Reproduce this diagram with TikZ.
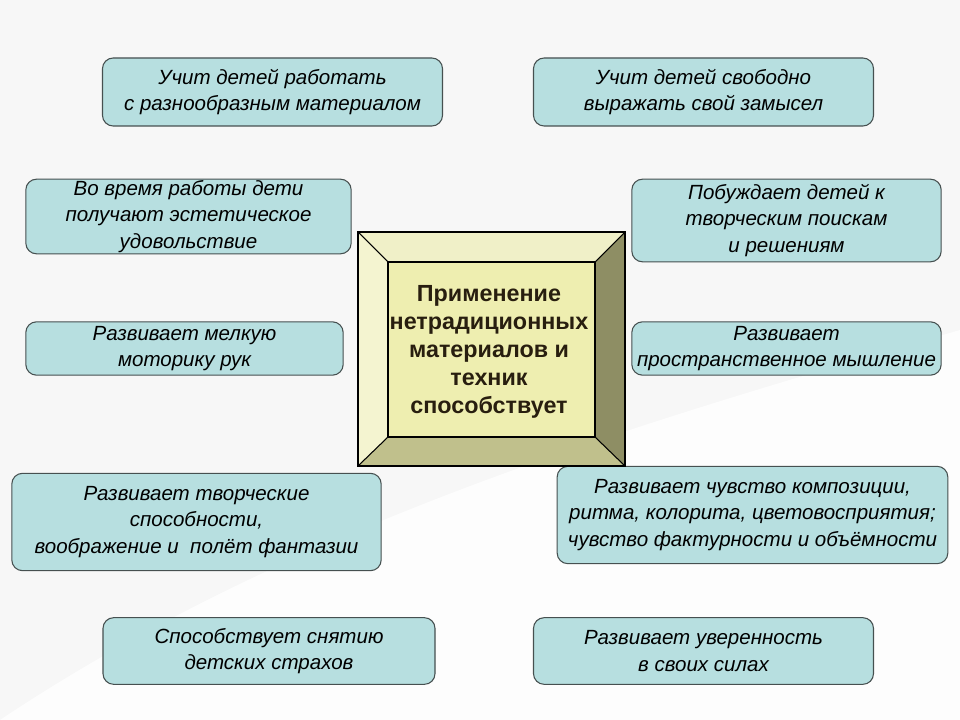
\documentclass[tikz,border=0pt]{standalone}
\usepackage{fontspec}
\setmainfont{Liberation Sans}
\usetikzlibrary{positioning}
\definecolor{boxfill}{RGB}{183,223,224}
\definecolor{boxdraw}{RGB}{70,80,80}
\definecolor{bevtop}{RGB}{240,240,200}
\definecolor{bevleft}{RGB}{244,244,208}
\definecolor{bevright}{RGB}{142,142,100}
\definecolor{bevbottom}{RGB}{192,192,140}
\definecolor{bevface}{RGB}{238,238,176}
\definecolor{titletext}{RGB}{40,30,15}

\begin{document}
\begin{tikzpicture}[
        x=0.75pt, y=-0.75pt,
        info/.style={
            rectangle,
            rounded corners=8pt,
            draw=boxdraw,
            line width=0.8pt,
            fill=boxfill,
            font=\fontsize{15.4}{20}\selectfont\itshape,
            align=center,
            inner sep=0pt
        },
        bevel/.style={draw=black, line width=0.8pt}
    ]
    % background
    \fill[gray!6] (0,0) rectangle (960,720);
    \fill[white, opacity=0.8] (0,720) .. controls (300,520) and (650,420) .. (960,330) -- (960,720) -- cycle;

    % boxes around the centre
    \node[info, minimum width=255pt, minimum height=51pt] (work) at (272.5,92) {Учит детей работать\\с разнообразным материалом};
    \node[info, minimum width=255pt, minimum height=51pt] (idea) at (703.5,92) {Учит детей свободно\\выражать свой замысел};
    \node[info, minimum width=244pt, minimum height=56pt] (joy) at (188.5,216.5) {Во время работы дети\\получают эстетическое\\удовольствие};
    \node[info, minimum width=232pt, minimum height=62pt] (search) at (786.5,220.5) {Побуждает детей к\\творческим поискам\\и решениям};
    \node[info, minimum width=238pt, minimum height=40pt] (hands) at (184.5,348.5) {Развивает мелкую\\моторику рук};
    \node[info, minimum width=232pt, minimum height=40pt] (space) at (786.5,348.5) {Развивает\\пространственное мышление};
    \node[info, minimum width=277pt, minimum height=73pt] (fantasy) at (196.5,522) {Развивает творческие\\способности,\\воображение и\ \ полёт фантазии};
    \node[info, minimum width=293pt, minimum height=73pt] (rhythm) at (752.5,515) {Развивает чувство композиции,\\ритма, колорита, цветовосприятия;\\чувство фактурности и объёмности};
    \node[info, minimum width=249pt, minimum height=50pt] (fear) at (269,651) {Способствует снятию\\детских страхов};
    \node[info, minimum width=255pt, minimum height=50pt] (self) at (703.5,651) {Развивает уверенность\\в своих силах};

    % bevelled centre
    \fill[bevtop] (358,232) -- (625,232) -- (595,262) -- (388,262) -- cycle;
    \fill[bevleft] (358,232) -- (388,262) -- (388,437) -- (358,466) -- cycle;
    \fill[bevright] (625,232) -- (625,466) -- (595,437) -- (595,262) -- cycle;
    \fill[bevbottom] (358,466) -- (625,466) -- (595,437) -- (388,437) -- cycle;
    \draw[bevel] (358,232) -- (388,262) (625,232) -- (595,262) (358,466) -- (388,437) (625,466) -- (595,437);
    \node[bevel, fill=bevface, minimum width=155.25pt, minimum height=131.25pt, inner sep=0pt] (face) at (491.5,349.5) {};
    \draw[bevel] (358,232) rectangle (625,466);
    \node[font=\fontsize{17.5}{21}\selectfont\bfseries, text=titletext, align=center] (title) at (489,352) {Применение\\нетрадиционных\\материалов и\\техник\\способствует};
\end{tikzpicture}
\end{document}
